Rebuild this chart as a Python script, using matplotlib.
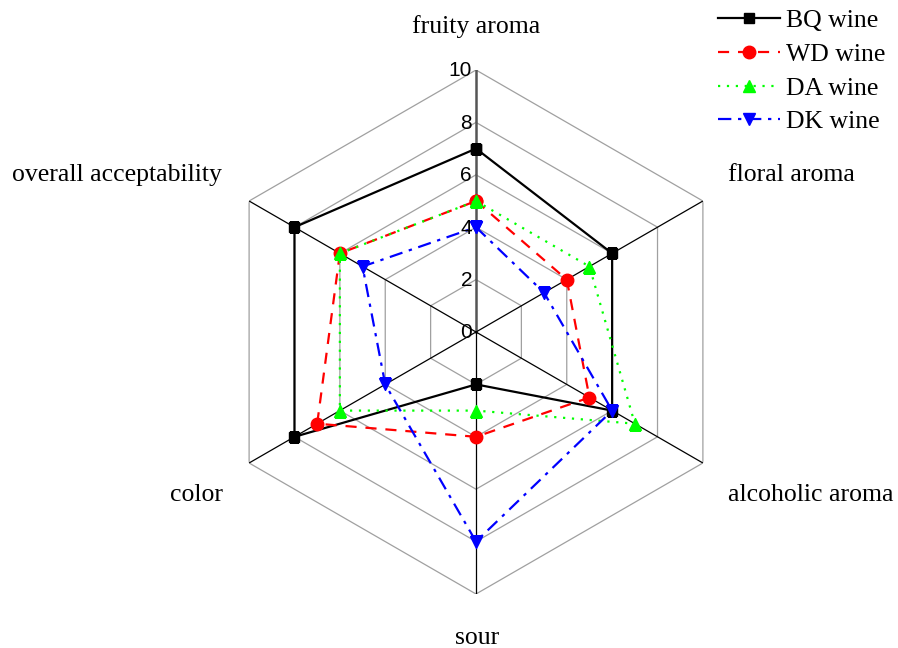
import numpy as np
import matplotlib
matplotlib.use("Agg")
import matplotlib.pyplot as plt
from matplotlib.transforms import offset_copy

attributes = ["fruity aroma", "floral aroma", "alcoholic aroma",
              "sour", "color", "overall acceptability"]
bq_wine = [7, 6, 6, 2, 8, 8]
wd_wine = [5, 4, 5, 4, 7, 6]
da_wine = [5, 5, 7, 3, 6, 6]
dk_wine = [4, 3, 6, 8, 4, 5]
ring_levels = [2, 4, 6, 8, 10]
tick_labels = ["0", "2", "4", "6", "8", "10"]

series = [
    ("BQ wine", bq_wine, "black", "-", "s"),
    ("WD wine", wd_wine, "#ff0000", (0, (5, 4)), "o"),
    ("DA wine", da_wine, "#00ff00", (0, (1, 3)), "^"),
    ("DK wine", dk_wine, "#0000ff", (0, (6, 3, 1.5, 3)), "v"),
]

serif = ["Liberation Serif", "DejaVu Serif"]
sans = ["Liberation Sans", "DejaVu Sans"]

fig = plt.figure(figsize=(8.98, 6.48), dpi=100)
ax = fig.add_axes([214 / 898, 54 / 648, 524 / 898, 524 / 648], projection="polar")
ax.set_theta_offset(np.pi / 2)
ax.set_theta_direction(-1)
ax.set_ylim(0, 10)
ax.grid(False)
ax.set_xticks([])
ax.set_yticks([])
ax.spines["polar"].set_visible(False)

angles = np.arange(len(attributes)) * 2 * np.pi / len(attributes)
closed = np.append(angles, angles[0])

# hexagonal grid
for lvl in ring_levels:
    ax.plot(closed, [lvl] * len(closed), color="#a0a0a0", lw=0.9, zorder=1)
for i, a in enumerate(angles):
    if i == 0:
        ax.plot([a, a], [0, 10], color="#555555", lw=1.8, zorder=1)
    else:
        ax.plot([a, a], [0, 10], color="black", lw=0.9, zorder=1)

for name, vals, col, ls, mk in series:
    v = np.append(vals, vals[0])
    ax.plot(closed, v, color=col, linestyle=ls, lw=1.6, marker=mk,
            markersize=9 if mk != "s" else 7.5, markerfacecolor=col,
            markeredgecolor=col, label=name, zorder=3)

# radial tick labels along the top axis
trans = offset_copy(ax.transData, fig=fig, x=-4, y=-1, units="dots")
for lbl in tick_labels:
    ax.text(0, float(lbl), lbl, transform=trans, ha="right", va="center",
            fontsize=15, family=sans, zorder=4)

# category labels
label_pos = [(476, 27, "center"), (728, 175, "left"), (728, 495, "left"),
             (477, 638, "center"), (223, 495, "right"), (222, 175, "right")]
for name, (px, py, ha) in zip(attributes, label_pos):
    fig.text(px / 898, 1 - py / 648, name, ha=ha, va="center",
             fontsize=18.5, family=serif)

fig.legend(loc="upper left", bbox_to_anchor=(700 / 898, 1 + 9 / 648),
           frameon=False, prop={"family": serif, "size": 18.5},
           handlelength=2.4, labelspacing=0.42, handletextpad=0.25,
           borderpad=0.2)

fig.savefig("out.png", dpi=100)
